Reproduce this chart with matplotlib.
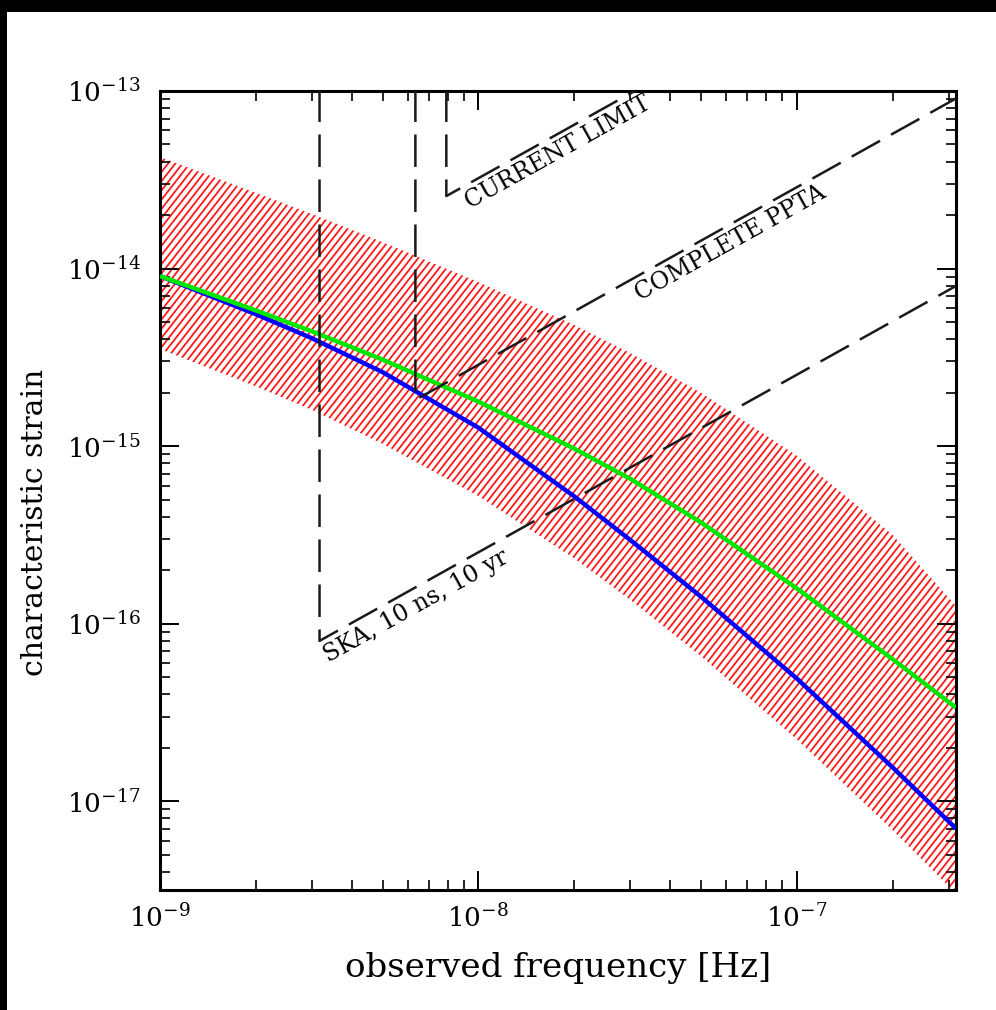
import numpy as np
import matplotlib
matplotlib.use("Agg")
import matplotlib.pyplot as plt
from matplotlib.collections import LineCollection
from matplotlib.patches import PathPatch, Rectangle
from matplotlib.path import Path

plt.rcParams['font.family'] = ['DejaVu Serif']
plt.rcParams['mathtext.fontset'] = 'dejavuserif'

# ---- data ----
freq = [1e-9, 2e-9, 3e-9, 5e-9, 1e-8, 2e-8, 3e-8, 5e-8, 1e-7, 2e-7, 3.16e-7]
strain_green = [9.08e-15, 5.81e-15, 4.43e-15, 3.07e-15, 1.78e-15, 9.68e-16,
                6.54e-16, 3.72e-16, 1.58e-16, 6.31e-17, 3.37e-17]
strain_blue = [9.08e-15, 5.53e-15, 4.05e-15, 2.61e-15, 1.27e-15, 5.21e-16,
               2.96e-16, 1.42e-16, 4.91e-17, 1.55e-17, 7.03e-18]
band_upper = [4.25e-14, 2.67e-14, 2.03e-14, 1.41e-14, 8.39e-15, 4.81e-15,
              3.34e-15, 2.00e-15, 8.83e-16, 3.16e-16, 1.26e-16]
band_lower = [3.52e-15, 2.17e-15, 1.60e-15, 1.03e-15, 5.23e-16, 2.33e-16,
              1.36e-16, 6.56e-17, 2.23e-17, 6.87e-18, 3.02e-18]

limit_names = ["CURRENT LIMIT", "COMPLETE PPTA", "SKA, 10 ns, 10 yr"]
limit_freq = [7.93e-9, 6.34e-9, 3.17e-9]
limit_strain = [2.56e-14, 1.82e-15, 8.0e-17]
label_pos = [1.10, 4.70, 0.99]   # where each label starts along its line (ratio to corner freq)

xlim = (1e-9, 10 ** -6.5)
ylim = (10 ** -17.5, 1e-13)

# ---- figure ----
fig = plt.figure(figsize=(9.96, 10.10), dpi=100)
fig.patch.set_facecolor('black')
fig.add_artist(Rectangle((7 / 996, 0), 1, 1 - 12 / 1010, transform=fig.transFigure,
                         facecolor='white', edgecolor='none', zorder=-10))
ax = fig.add_axes([160 / 996, 120 / 1010, 796 / 996, 799 / 1010])
ax.set_xscale('log')
ax.set_yscale('log')
ax.set_xlim(*xlim)
ax.set_ylim(*ylim)
ax.set_facecolor('white')

# hatched band
verts = list(zip(freq, band_upper)) + list(zip(freq[::-1], band_lower[::-1]))
verts.append(verts[0])
codes = [Path.MOVETO] + [Path.LINETO] * (len(verts) - 2) + [Path.CLOSEPOLY]
band_patch = PathPatch(Path(verts, codes), transform=ax.transData,
                       facecolor='none', edgecolor='none')
ax.add_patch(band_patch)
W, H = 796.0, 799.0
theta = np.deg2rad(52)
shift = H / (W * np.tan(theta))
step = 7.2 / W
x0s = np.arange(-shift - step, 1 + step, step)
segs = [[(x0, 0), (x0 + shift, 1)] for x0 in x0s]
lc = LineCollection(segs, colors='#ff1a1a', linewidths=1.3, transform=ax.transAxes, zorder=1)
ax.add_collection(lc)
lc.set_clip_path(band_patch)

# curves
ax.plot(freq, strain_blue, color='#0000ff', lw=3.2, zorder=3, solid_capstyle='butt')
ax.plot(freq, strain_green, color='#00e600', lw=3.2, zorder=3, solid_capstyle='butt')

# sensitivity limits
fig.canvas.draw()
p1 = ax.transData.transform((1e-9, 1e-15))
p2 = ax.transData.transform((1e-8, 1e-14))
ang = np.degrees(np.arctan2(p2[1] - p1[1], p2[0] - p1[0]))
for name, f0, h0, lp in zip(limit_names, limit_freq, limit_strain, label_pos):
    f_end = xlim[1]
    xs = [f0, f0, f_end]
    ys = [ylim[1] * 1.02, h0, h0 * f_end / f0]
    ax.plot(xs, ys, color='#1a1a1a', lw=1.8, dashes=(13, 5), zorder=4)
    ax.annotate(name, xy=(f0 * lp, h0 * lp), xytext=(1.2, -3.5), textcoords='offset points',
                rotation=ang, rotation_mode='anchor', ha='left', va='top',
                fontsize=17, color='black', zorder=5)

# axes styling
for s in ax.spines.values():
    s.set_linewidth(2.2)
ax.tick_params(which='both', direction='in', top=True, right=True, labelsize=19)
ax.tick_params(axis='x', pad=10)
ax.tick_params(axis='y', pad=14)
ax.tick_params(which='major', length=14, width=1.4)
ax.tick_params(which='minor', length=7, width=1.2)
ax.set_xlabel('observed frequency [Hz]', fontsize=24.5)
ax.xaxis.set_label_coords(0.5, -(968 - 890) / 799, transform=ax.transAxes)
ax.xaxis.label.set_va('center')
ax.set_ylabel('characteristic strain', fontsize=21.5)
ax.yaxis.set_label_coords(-(160 - 35) / 796, (890 - 522) / 799, transform=ax.transAxes)
ax.yaxis.label.set_va('center')

fig.savefig('out.png', dpi=100, facecolor=fig.get_facecolor())
